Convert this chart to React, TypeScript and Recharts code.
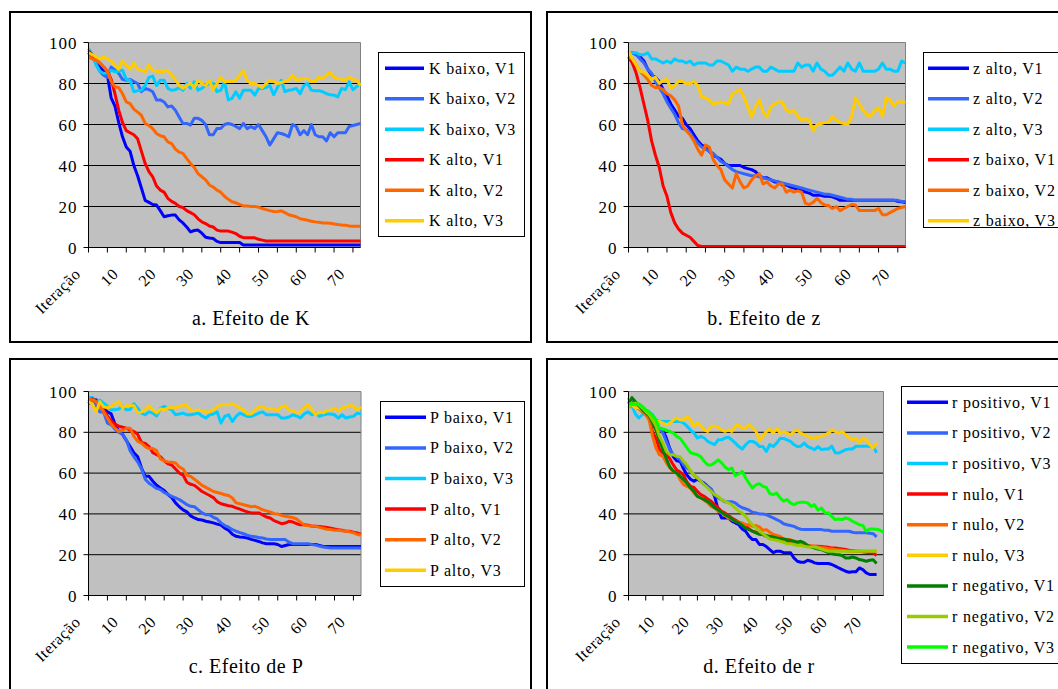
import React from "react";
import { LineChart, Line, XAxis, YAxis, CartesianGrid, ReferenceArea } from "recharts";

const FONT = "Liberation Serif, Times New Roman, Tinos, DejaVu Serif, serif";

// ---- categories (tick labels) ----
const iter73: (string | number)[] = ["Iteração", 1, 2, 3, 4, 5, 6, 7, 8, 9, 10, 11, 12, 13, 14, 15, 16, 17, 18, 19, 20, 21, 22, 23, 24, 25, 26, 27, 28, 29, 30, 31, 32, 33, 34, 35, 36, 37, 38, 39, 40, 41, 42, 43, 44, 45, 46, 47, 48, 49, 50, 51, 52, 53, 54, 55, 56, 57, 58, 59, 60, 61, 62, 63, 64, 65, 66, 67, 68, 69, 70, 71, 72];
const iter75: (string | number)[] = ["Iteração", 1, 2, 3, 4, 5, 6, 7, 8, 9, 10, 11, 12, 13, 14, 15, 16, 17, 18, 19, 20, 21, 22, 23, 24, 25, 26, 27, 28, 29, 30, 31, 32, 33, 34, 35, 36, 37, 38, 39, 40, 41, 42, 43, 44, 45, 46, 47, 48, 49, 50, 51, 52, 53, 54, 55, 56, 57, 58, 59, 60, 61, 62, 63, 64, 65, 66, 67, 68, 69, 70, 71, 72, 73, 74];
const yTicks = [0, 20, 40, 60, 80, 100];
const gridValues = [20, 40, 60, 80];

// ---- panel a: Efeito de K ----
const kBaixoV1 = [95, 93, 91, 88, 86, 84, 73, 69, 61, 54, 49, 47, 40, 35, 29, 23, 22, 21, 20.7, 18, 15, 15.5, 15.8, 15.8, 13.5, 12, 10, 7.6, 8.3, 8.5, 7, 5, 4.6, 4.4, 3, 2.4, 2.4, 2.4, 2.4, 2.4, 2.4, 1.2, 1.2, 1.2, 1.2, 1.2, 1.2, 1.2, 1.2, 1.2, 1.2, 1.2, 1.2, 1.2, 1.2, 1.2, 1.2, 1.2, 1.2, 1.2, 1.2, 1.2, 1.2, 1.2, 1.2, 1.2, 1.2, 1.2, 1.2, 1.2, 1.2, 1.2, 1.2];
const kBaixoV2 = [95, 93, 90, 86, 84, 83, 88, 86.5, 85, 82, 81.6, 82, 81, 80, 76, 77.6, 77, 76, 72, 72, 71, 68.6, 69, 67, 63.7, 60.5, 60.5, 59.7, 63, 63, 62, 60, 55, 55, 58, 58, 60, 60.5, 60, 59, 58, 60.5, 58, 59, 58, 60, 57, 54, 50, 53, 56, 55.6, 55, 54, 60, 59, 55, 57, 55, 60, 55, 54, 54, 52, 56, 54, 56, 56, 56, 59, 59.5, 60, 60.5];
const kBaixoV3 = [97, 94, 89, 86, 85, 85, 86.5, 85.7, 86, 86.5, 82, 81.6, 76, 76.5, 76.7, 79, 83, 83.6, 79, 81.6, 81.6, 77.6, 76.7, 77, 78, 76.7, 80, 77.6, 80.8, 76.7, 77.6, 79, 80, 80, 76, 76.7, 80.8, 72, 72.8, 76, 72.8, 76.7, 76.7, 76.7, 74.3, 77.6, 77.6, 78, 79, 74.5, 78, 81.6, 76, 76.7, 77, 77.6, 75, 79, 80, 76.7, 76.5, 76.5, 76, 75, 74.5, 74.3, 73.5, 77.6, 77, 80.8, 77, 78.5, 80];
const kAltoV1 = [96, 94, 92, 90, 88, 86, 82, 75, 67, 61, 57, 56, 55, 53, 47, 41, 37, 34.5, 30, 28, 27, 24, 22.5, 21.5, 20, 19.5, 18, 17, 16, 14, 12.5, 11.7, 10.5, 10, 8.5, 8, 8, 8, 7.5, 6.8, 5.5, 4.8, 4.7, 4.7, 4.7, 4, 3.6, 3.2, 3.2, 3.2, 3.2, 3.2, 3.2, 3.2, 3.2, 3.2, 3.2, 3.2, 3.2, 3.2, 3.2, 3.2, 3.2, 3.2, 3.2, 3.2, 3.2, 3.2, 3.2, 3.2, 3.2, 3.2, 3.2];
const kAltoV2 = [93, 92, 91.4, 90, 88, 86, 81, 78.4, 78, 75, 71, 70.2, 67.5, 66, 64.5, 60.5, 59.5, 58, 55.6, 54.5, 54, 51.5, 50.7, 48, 46.5, 45.9, 43.4, 41, 39, 36, 34.5, 33, 30.5, 29.5, 28, 27, 25, 23.5, 22.3, 21.8, 21, 20.3, 20.2, 20, 20, 19.7, 19, 18.5, 18, 17.6, 17.5, 17.9, 17, 16, 15.5, 15, 14, 13.7, 13.3, 12.8, 12.5, 12.3, 12, 12, 11.8, 11.5, 11.2, 11, 10.9, 10.5, 10.4, 10.4, 10.4];
const kAltoV3 = [95, 94, 93, 92, 93, 92, 91, 89, 87, 91, 89, 87, 90, 87, 86.5, 85.7, 89, 86.5, 86, 85.7, 86, 86.5, 84, 82, 79, 77.6, 79, 80, 78, 81.6, 80, 79, 81.6, 77, 80, 83, 81, 81, 81, 81.6, 84, 86, 81.6, 80, 80, 79, 78, 80, 81.6, 81, 80, 80.5, 81, 81.6, 84, 81.6, 82, 82.4, 82.4, 81, 81, 83, 82.5, 84, 85.5, 83, 82.5, 82, 81.6, 83, 82, 81.6, 79];

// ---- panel b: Efeito de z ----
const zAltoV1 = [95, 95, 94, 93, 91, 87, 84, 83, 81, 77, 74, 70, 67, 64, 63, 60, 58, 55, 52, 50, 49, 47, 45, 44, 43, 41, 40, 40, 40, 40, 39, 38.5, 38, 37, 35, 34, 34, 33, 32, 32, 30.5, 30.5, 29.6, 29, 28.5, 28, 27, 26.5, 25.5, 25.5, 25.5, 25, 25, 24.7, 24, 23, 23, 23, 23, 23, 23, 23, 23, 23, 23, 23, 23, 23, 23, 23, 22.5, 22.3, 22];
const zAltoV2 = [95, 95, 94, 92, 90, 87, 85, 81, 78, 75, 71, 68, 65, 61, 58, 57.6, 56, 53, 51, 49, 48, 47, 46, 44, 42, 41, 39.5, 38, 37, 36.5, 36, 35.5, 35, 35, 34.5, 34, 33.5, 33, 32.5, 32, 31.5, 31, 30.5, 30, 29.5, 29, 28.5, 28, 27.5, 27, 26.5, 26, 26, 25.5, 25, 24.5, 24, 23.5, 23.5, 23, 23, 23, 23, 23, 23, 23, 23, 23, 23, 23, 23, 22.5, 22.5];
const zAltoV3 = [95, 95, 95, 94, 94, 95, 92, 92, 91, 90, 91, 90, 92, 91, 91, 90, 91, 89, 90, 90, 90, 89, 89, 91, 91, 90, 89, 86, 88, 87, 87, 86, 87, 88, 88, 86, 86, 88, 87, 86, 86, 86, 86, 86, 90, 88, 89, 89, 86, 90, 87, 86, 84, 84, 86, 88, 86, 90, 87, 86, 90, 86, 86, 86, 86, 87, 90, 87, 87, 86, 86, 91, 90];
const zBaixoV1 = [93, 90, 85, 78, 70, 62, 52, 45, 39, 30, 25, 17, 12, 9, 7, 6, 5, 3, 1, 0.5, 0.5, 0.5, 0.5, 0.5, 0.5, 0.5, 0.5, 0.5, 0.5, 0.5, 0.5, 0.5, 0.5, 0.5, 0.5, 0.5, 0.5, 0.5, 0.5, 0.5, 0.5, 0.5, 0.5, 0.5, 0.5, 0.5, 0.5, 0.5, 0.5, 0.5, 0.5, 0.5, 0.5, 0.5, 0.5, 0.5, 0.5, 0.5, 0.5, 0.5, 0.5, 0.5, 0.5, 0.5, 0.5, 0.5, 0.5, 0.5, 0.5, 0.5, 0.5, 0.5, 0.5];
const zBaixoV2 = [93, 92, 89, 86, 84, 82, 79, 78, 78, 77, 75, 74, 72, 69, 60, 57, 55, 52, 48, 45, 50, 49, 43, 40, 38, 33, 31, 29, 36, 32, 29, 30, 33, 35, 36, 31, 32, 30, 29, 31, 31, 27, 28, 27, 27.6, 27, 21.5, 21, 22, 24, 22, 20.7, 20.5, 19, 20, 18, 19, 20, 21, 20.7, 18, 18, 18, 18, 18, 19, 16, 16, 17, 18, 19, 19.5, 20];
const zBaixoV3 = [96, 92, 89, 86, 85.5, 84, 82, 83, 80, 81.6, 82, 77.6, 79, 81, 81, 80, 80, 81, 79, 73.5, 73, 72, 70, 70.5, 71, 70.5, 70, 75, 76, 77, 73.5, 68.6, 63.7, 68.6, 72, 66, 63.7, 68.6, 70, 71, 71, 67, 66, 67, 64, 62, 63, 62, 57, 60, 60.5, 61, 61, 64, 62, 61, 60.5, 60, 64, 73, 70, 67, 64.5, 64, 67, 68, 64, 73, 72, 69, 71, 71, 71];

// ---- panel c: Efeito de P ----
const pBaixoV1 = [94, 96, 96, 93.5, 92, 90, 89, 84, 80.5, 79, 76, 73, 70, 68, 62.5, 58.4, 58.4, 56, 54, 52.7, 51.5, 49.5, 48, 45.4, 43.5, 42, 41, 39, 38, 37.2, 37, 36.4, 36, 35.6, 35, 34.5, 33, 32, 30, 29, 28.7, 28.5, 28.2, 27.5, 27, 26.5, 25.8, 25.4, 25.4, 25.4, 25, 24, 24.5, 25, 25, 25, 25, 25, 25, 25, 25, 24.5, 24, 24, 24, 24, 24, 24, 24, 24, 24, 24, 24];
const pBaixoV2 = [97, 96, 93, 90, 90, 84.5, 83.7, 81.5, 80, 79, 76.3, 71, 68, 65.5, 62, 57, 55, 53.8, 52.5, 51.9, 50.5, 49.5, 48.6, 47.8, 47, 45.8, 44.5, 43.7, 43.5, 42, 40.5, 39.6, 39.6, 38.3, 37.5, 35.6, 34.3, 33.5, 32.3, 31.5, 30.8, 30.3, 29.5, 29, 28.8, 28.4, 28.2, 27.7, 27.5, 27.4, 27.4, 27.4, 27.4, 26.1, 25.4, 25.4, 25.4, 25.4, 25.4, 25, 24.7, 24.2, 23.8, 23.5, 23.3, 23.3, 23.3, 23.3, 23.3, 23.3, 23.3, 23.3, 23.3];
const pBaixoV3 = [97, 97, 95, 95.8, 94.3, 92.7, 91, 91, 91.4, 92.7, 91, 91.2, 94, 91.8, 89.4, 88.6, 90, 89.4, 88, 91.8, 92.7, 91.8, 91, 88.6, 89, 89.4, 88.6, 88.6, 89, 89.4, 88, 87, 88.6, 89, 90, 84.5, 87.8, 88.6, 85.3, 87.8, 89.4, 88.6, 87.8, 87.8, 88.6, 89.4, 90, 88.6, 88.6, 88.6, 88.6, 87, 87, 87.5, 88.6, 88, 87, 89, 90, 88.6, 89.4, 87.8, 88.5, 89, 89, 88.6, 87, 88.6, 87, 87.5, 87.8, 89.4, 89];
const pAltoV1 = [95, 96.5, 95, 93.5, 91, 88, 85.5, 84, 83, 82.5, 82, 81, 80.4, 79, 75, 74.5, 73, 70, 69, 68, 66, 64.5, 64, 62, 60, 59, 55.5, 54.5, 54, 52.5, 51, 50, 49, 48, 46, 45, 44.5, 44, 43.7, 43, 42.3, 41.6, 41, 40.5, 40.5, 40.5, 39.5, 38.5, 38, 36.7, 36, 35.2, 35.5, 36.4, 36, 35.2, 34.7, 34.7, 34.5, 34, 34, 33.8, 33.6, 33.3, 33, 32.6, 32.3, 32, 31.5, 31.5, 31, 30.7, 30];
const pAltoV2 = [96, 96, 95, 93, 90, 87, 84, 82, 80.5, 81, 82, 82, 78, 75.5, 74.7, 73, 72, 72, 71, 67, 66, 65.5, 65.3, 65, 63, 62, 59, 58.4, 57, 55.5, 54, 53, 52, 51, 50.5, 50, 49.4, 49, 47.8, 45.4, 45, 44.5, 44, 43.5, 43.7, 43, 42, 41.5, 41, 40.1, 40, 39.3, 38.8, 38.5, 38.2, 37.5, 36, 34.5, 34.2, 34, 34, 33.4, 33, 32.5, 32.3, 32, 32, 31.7, 31.5, 31.2, 30.7, 30, 29.5];
const pAltoV3 = [95, 94, 90, 95, 92.5, 92, 92.5, 94, 95, 92, 93, 93, 93, 89.5, 90, 91, 93, 91, 89.5, 91.5, 91, 92, 92, 92, 92.5, 93.5, 93, 91, 90.5, 91, 90.5, 90, 90, 91, 92.5, 93.5, 93.5, 93.5, 94, 93, 92, 91, 89, 89, 91, 92.5, 92.5, 91.5, 91.5, 91.5, 90.5, 92.5, 93, 91, 90.5, 89.5, 90, 92, 93.5, 91, 88.6, 90, 89.5, 90.5, 91, 91.8, 90.5, 91.8, 92.5, 93, 93, 91, 92.5];

// ---- panel d: Efeito de r ----
const rPosV1 = [95, 94, 93, 92, 90.5, 89, 87, 84, 82, 82, 81, 77, 72, 68, 66, 65.7, 62, 59, 57, 56, 57, 56, 55, 53.5, 52, 48.6, 42, 38, 38, 38, 36.4, 35.6, 34.7, 32.6, 31.5, 29, 27.4, 27.4, 25, 25, 24, 22.5, 21, 21.7, 21.7, 21, 21, 21, 18.4, 16.8, 16.3, 16.3, 17.3, 16.8, 16, 15.7, 15.7, 15.7, 15.7, 15.2, 14.4, 13.5, 12.7, 11.9, 11.4, 11.6, 11.6, 13.5, 12.7, 11.1, 10.3, 10.3, 10.3];
const rPosV2 = [96, 95, 94, 92, 91, 90, 88, 84, 83, 82, 79.6, 75.5, 71.5, 69, 68, 66.6, 64, 62.5, 61, 59, 57.6, 56, 54.3, 53.5, 52, 49.4, 47.8, 47, 46, 46, 46, 45.4, 44, 43, 42.5, 41.8, 40.8, 40.5, 40, 40, 39.6, 38.8, 38, 37.2, 36.4, 35.2, 34.7, 34.3, 33.9, 33, 32.5, 32.3, 32.3, 32.3, 32.3, 32.3, 32.3, 32, 32, 31.5, 31.5, 31.5, 31.5, 31.5, 31.5, 31, 30.7, 30.7, 30.7, 30.7, 30.5, 30.3, 28.7];
const rPosV3 = [97, 93, 89, 87, 88.6, 90, 90, 88.6, 86, 85.3, 85.3, 85.3, 85.3, 85.3, 85.3, 85.3, 84.5, 83, 81, 79.6, 77.2, 78, 77.2, 75.5, 74.7, 74, 76.3, 76.3, 77.2, 77.6, 76.3, 74.7, 73, 71.8, 73.9, 75.5, 75.5, 74.7, 73, 73, 70.6, 74, 73, 74.7, 77, 77, 76.3, 75.5, 74, 73, 73.2, 74.7, 73, 72.3, 71.5, 73, 71.5, 71.8, 71.8, 73.2, 70, 69.8, 70.6, 71.5, 71.8, 71.8, 73.2, 73.2, 73.2, 73.2, 73.2, 73, 70];
const rNuloV1 = [95, 94.3, 93.5, 92.7, 91.5, 90, 87, 80, 77, 71.5, 69.8, 69, 67, 64, 61.5, 60.5, 59, 55.5, 53.5, 53, 51, 49.4, 48.6, 47.3, 46.2, 44.5, 43, 41.3, 40.5, 39.2, 38, 37, 36, 35.2, 34.3, 32.6, 31.5, 31, 30.3, 29.9, 29, 28.2, 27.7, 27.4, 27.2, 27, 26.6, 26, 25.8, 25.4, 25, 24.8, 24.5, 24.2, 24.1, 24.1, 24, 23.8, 23.6, 23.3, 23.3, 23, 22.8, 22.5, 22.2, 22, 21.7, 21.7, 21.4, 21.2, 21, 20.9, 19.6];
const rNuloV2 = [94, 93.5, 92.5, 91.5, 90, 88.5, 86, 78, 72.3, 69, 68.2, 65, 62.5, 60.8, 60, 56.8, 54.3, 53.5, 52.7, 50.2, 48.6, 47.8, 46.7, 45.4, 43.7, 42.9, 41.3, 40.5, 39.2, 38, 37.2, 36.4, 35.9, 35.6, 34.7, 34.7, 33.9, 34.3, 33.6, 32, 32.3, 31, 29.9, 29.4, 29, 27.7, 27.4, 27.4, 26.6, 26.1, 25.4, 25, 24.5, 24.3, 24.1, 23.8, 23.5, 23.3, 23, 22.8, 22.5, 22.3, 22.2, 22, 21.7, 21.7, 21.7, 21.7, 21.7, 21.7, 21.7, 21.7, 21.7];
const rNuloV3 = [97, 93.5, 92, 92, 91, 90, 88.6, 87, 85.3, 85.3, 84.5, 83.7, 84.5, 86, 87, 86, 86, 87.8, 86, 83, 84.5, 83, 81.2, 80.4, 83, 83, 82.5, 81.2, 80.4, 81.2, 80.4, 83, 83.7, 82, 82, 83.7, 82, 80.4, 76.3, 78, 80.4, 81.6, 79.6, 82, 79.6, 80.4, 79.6, 78.8, 80.4, 81.2, 79.6, 78.8, 78, 77.2, 77.2, 77.6, 78, 78.8, 79.6, 81.2, 80.4, 79.6, 80.4, 78.8, 77.6, 76.3, 77.2, 74.7, 77.2, 76.3, 74, 72.3, 75];
const rNegV1 = [94, 97, 95, 93, 91, 89.5, 88, 84.5, 81, 76, 71.5, 67, 63, 61, 60, 58.4, 56.8, 55, 52.7, 51, 48.6, 47.8, 47, 46, 44.5, 43, 42, 40.8, 39.6, 38.8, 37.5, 36.4, 35.6, 34.3, 33, 32.3, 31.5, 30.7, 30, 29.9, 29.4, 29, 28.7, 28.2, 28, 27.7, 27.4, 27, 26.6, 26.1, 26.6, 25.8, 24.5, 23.8, 23.3, 22.8, 22.5, 21.7, 21, 20.6, 20.1, 20, 19.6, 18.4, 18.4, 18.9, 18.4, 17.6, 17.3, 16.8, 17.3, 17.5, 15.7];
const rNegV2 = [92, 93.5, 94.3, 93.5, 92, 90.2, 88.6, 86, 83, 78, 74.7, 70.6, 69, 69, 68.2, 68, 65.7, 64, 61, 59.2, 57.6, 56, 54.3, 52.7, 51, 49.4, 48.6, 47, 46.2, 45.4, 44.5, 42.9, 41.3, 40.5, 38.8, 36.4, 34.7, 33.1, 31.5, 30.3, 29, 27.7, 27.4, 27.1, 26.6, 26.1, 25.4, 25.4, 25, 24.5, 24.5, 24.1, 23.8, 23.8, 23.8, 23.3, 22.8, 22.2, 21.7, 21.7, 21.7, 21.7, 21.7, 21.7, 21.7, 21.7, 21.7, 21.7, 21.7, 21.7, 21.7, 21.7, 21.7];
const rNegV3 = [94, 94, 93.5, 94, 92.7, 91, 90, 88, 86, 82, 81.6, 81, 80.4, 79.6, 78, 77, 74.7, 72.3, 70, 69.5, 69, 68, 65.7, 64, 64, 65, 66.5, 65, 63, 61.7, 62.5, 58.7, 59.5, 60.8, 57.6, 55, 52.7, 54.3, 54.8, 53.5, 53, 50, 49.4, 50.2, 47.8, 46.2, 47, 45.4, 44.5, 45.4, 45.7, 45.7, 45.4, 43.7, 44.5, 41.8, 42.9, 40.5, 40.5, 38.8, 37.2, 37.5, 37.2, 38, 37.5, 36.4, 35.6, 34.7, 34.3, 31.5, 32.6, 32.6, 32.5, 32, 31];

// ---- colours ----
const C_V1_BLUE = "#0000FF";
const C_V2_BLUE = "#3366FF";
const C_CYAN = "#00CCFF";
const C_RED = "#FF0000";
const C_ORANGE = "#FF6600";
const C_GOLD = "#FFCC00";
const C_DKGREEN = "#008000";
const C_YLGREEN = "#99CC00";
const C_GREEN = "#00FF00";

type Series = { name: string; color: string; values: number[] };

const panels = [
  {
    title: "a. Efeito de K",
    titleX: 251, titleY: 325,
    box: { x: 9, y: 11, w: 523, h: 332 },
    frame: { x: 10, y: 12, w: 521, h: 330 },
    plot: { x0: 88.5, y0: 42.5, x1: 360.5, y1: 247.5 },
    cats: iter73,
    legend: { x: 378.5, y: 52.5, w: 146, h: 184, sw0: 385, sw1: 424, tx: 429, y0: 68.3, step: 30.5 },
    series: [
      { name: "K baixo, V1", color: C_V1_BLUE, values: kBaixoV1 },
      { name: "K baixo, V2", color: C_V2_BLUE, values: kBaixoV2 },
      { name: "K baixo, V3", color: C_CYAN, values: kBaixoV3 },
      { name: "K alto, V1", color: C_RED, values: kAltoV1 },
      { name: "K alto, V2", color: C_ORANGE, values: kAltoV2 },
      { name: "K alto, V3", color: C_GOLD, values: kAltoV3 },
    ] as Series[],
  },
  {
    title: "b. Efeito de z",
    titleX: 764, titleY: 325,
    box: { x: 546, y: 11, w: 512, h: 332 },
    frame: { x: 547, y: 12, w: 600, h: 330 },
    plot: { x0: 628.5, y0: 42.5, x1: 905.5, y1: 247.5 },
    cats: iter73,
    legend: { x: 923.5, y: 52.5, w: 160, h: 175, sw0: 928, sw1: 969, tx: 973, y0: 68.3, step: 30.5 },
    series: [
      { name: "z alto, V1", color: C_V1_BLUE, values: zAltoV1 },
      { name: "z alto, V2", color: C_V2_BLUE, values: zAltoV2 },
      { name: "z alto, V3", color: C_CYAN, values: zAltoV3 },
      { name: "z baixo, V1", color: C_RED, values: zBaixoV1 },
      { name: "z baixo, V2", color: C_ORANGE, values: zBaixoV2 },
      { name: "z baixo, V3", color: C_GOLD, values: zBaixoV3 },
    ] as Series[],
  },
  {
    title: "c. Efeito de P",
    titleX: 246, titleY: 673,
    box: { x: 9, y: 358, w: 523, h: 331 },
    frame: { x: 10, y: 359, w: 521, h: 400 },
    plot: { x0: 88.5, y0: 391.5, x1: 361, y1: 595.5 },
    cats: iter73,
    legend: { x: 380.5, y: 401.5, w: 144, h: 185, sw0: 385, sw1: 426, tx: 430, y0: 417.3, step: 30.6 },
    series: [
      { name: "P baixo, V1", color: C_V1_BLUE, values: pBaixoV1 },
      { name: "P baixo, V2", color: C_V2_BLUE, values: pBaixoV2 },
      { name: "P baixo, V3", color: C_CYAN, values: pBaixoV3 },
      { name: "P alto, V1", color: C_RED, values: pAltoV1 },
      { name: "P alto, V2", color: C_ORANGE, values: pAltoV2 },
      { name: "P alto, V3", color: C_GOLD, values: pAltoV3 },
    ] as Series[],
  },
  {
    title: "d. Efeito de r",
    titleX: 759, titleY: 673,
    box: { x: 546, y: 358, w: 512, h: 331 },
    frame: { x: 547, y: 359, w: 600, h: 400 },
    plot: { x0: 628.5, y0: 391.5, x1: 883.5, y1: 595.5 },
    cats: iter75,
    legend: { x: 901.5, y: 386.5, w: 170, h: 277, sw0: 907, sw1: 948, tx: 952, y0: 402.3, step: 30.6 },
    series: [
      { name: "r positivo, V1", color: C_V1_BLUE, values: rPosV1 },
      { name: "r positivo, V2", color: C_V2_BLUE, values: rPosV2 },
      { name: "r positivo, V3", color: C_CYAN, values: rPosV3 },
      { name: "r nulo, V1", color: C_RED, values: rNuloV1 },
      { name: "r nulo, V2", color: C_ORANGE, values: rNuloV2 },
      { name: "r nulo, V3", color: C_GOLD, values: rNuloV3 },
      { name: "r negativo, V1", color: C_DKGREEN, values: rNegV1 },
      { name: "r negativo, V2", color: C_YLGREEN, values: rNegV2 },
      { name: "r negativo, V3", color: C_GREEN, values: rNegV3 },
    ] as Series[],
  },
];

function XTick(props: any) {
  const { x, y, payload } = props;
  const v = payload.value;
  const show = v === "Iteração" || (typeof v === "number" && v % 10 === 0);
  if (!show) return <g />;
  const ax = x - 7;
  const ay = y + 22.5;
  return (
    <text x={ax} y={ay} transform={`rotate(-45 ${ax} ${ay})`} textAnchor="end" fill="#000" style={{ fontFamily: FONT, fontSize: 16, letterSpacing: 0.6 }}>
      {v}
    </text>
  );
}

function YTick(props: any) {
  const { x, y, payload } = props;
  return (
    <text x={x} y={y} dy="0.36em" textAnchor="end" fill="#000" style={{ fontFamily: FONT, fontSize: 17, letterSpacing: 1 }}>
      {payload.value}
    </text>
  );
}

function Panel({ cfg }: { cfg: (typeof panels)[number] }) {
  const { box, plot, cats, series } = cfg;
  const data = cats.map((c, i) => {
    const row: any = { it: c };
    series.forEach((s, k) => {
      if (i < s.values.length) row["s" + k] = s.values[i];
    });
    return row;
  });
  const YW = 60;
  const XH = 60;
  const margin = {
    left: plot.x0 - box.x - YW,
    top: plot.y0 - box.y,
    right: box.x + box.w - plot.x1,
    bottom: box.y + box.h - plot.y1 - XH,
  };
  return (
    <div style={{ position: "absolute", left: box.x, top: box.y, width: box.w, height: box.h }}>
      <LineChart width={box.w} height={box.h} data={data} margin={margin}>
        <CartesianGrid vertical={false} horizontalValues={gridValues} fill="#C0C0C0" fillOpacity={1} stroke="#000" strokeDasharray="0" />
        <ReferenceArea x1={cats[0]} x2={cats[cats.length - 1]} y1={0} y2={100} fill="none" stroke="#808080" strokeWidth={1} ifOverflow="visible" />
        <XAxis
          dataKey="it"
          type="category"
          interval={4}
          height={XH}
          tickSize={5}
          tickMargin={0}
          axisLine={{ stroke: "#000" }}
          tickLine={{ stroke: "#000" }}
          tick={XTick}
        />
        <YAxis
          type="number"
          domain={[0, 100]}
          ticks={yTicks}
          interval={0}
          width={YW}
          tickSize={5}
          tickMargin={6}
          axisLine={{ stroke: "#000" }}
          tickLine={{ stroke: "#000" }}
          tick={YTick}
        />
        {series.map((s, k) => (
          <Line
            key={s.name}
            type="linear"
            dataKey={"s" + k}
            name={s.name}
            stroke={s.color}
            strokeWidth={3}
            strokeLinejoin="round"
            dot={false}
            activeDot={false}
            isAnimationActive={false}
          />
        ))}
      </LineChart>
    </div>
  );
}

function Overlay() {
  return (
    <svg width={1058} height={689} style={{ position: "absolute", left: 0, top: 0, pointerEvents: "none" }}>
      {panels.map((p) => (
        <rect key={"f" + p.title} x={p.frame.x} y={p.frame.y} width={p.frame.w} height={p.frame.h} fill="none" stroke="#000" strokeWidth={2} />
      ))}
      {panels.map((p) => (
        <g key={"lg" + p.title}>
          <rect x={p.legend.x} y={p.legend.y} width={p.legend.w} height={p.legend.h} fill="#fff" stroke="#000" strokeWidth={1} />
          {p.series.map((s, k) => {
            const cy = p.legend.y0 + k * p.legend.step;
            return (
              <g key={s.name}>
                <line x1={p.legend.sw0} x2={p.legend.sw1} y1={cy} y2={cy} stroke={s.color} strokeWidth={3.5} />
                <text x={p.legend.tx} y={cy + 5.5} fill="#000" style={{ fontFamily: FONT, fontSize: 16, letterSpacing: 0.8 }}>
                  {s.name}
                </text>
              </g>
            );
          })}
          <text x={p.titleX} y={p.titleY} textAnchor="middle" fill="#000" style={{ fontFamily: FONT, fontSize: 20, letterSpacing: 0.5 }}>
            {p.title}
          </text>
        </g>
      ))}
    </svg>
  );
}

export default function App() {
  return (
    <div style={{ position: "absolute", left: 0, top: 0, width: 1058, height: 689, overflow: "hidden", background: "#fff", fontFamily: FONT }}>
      {panels.map((p) => (
        <Panel key={p.title} cfg={p} />
      ))}
      <Overlay />
    </div>
  );
}
